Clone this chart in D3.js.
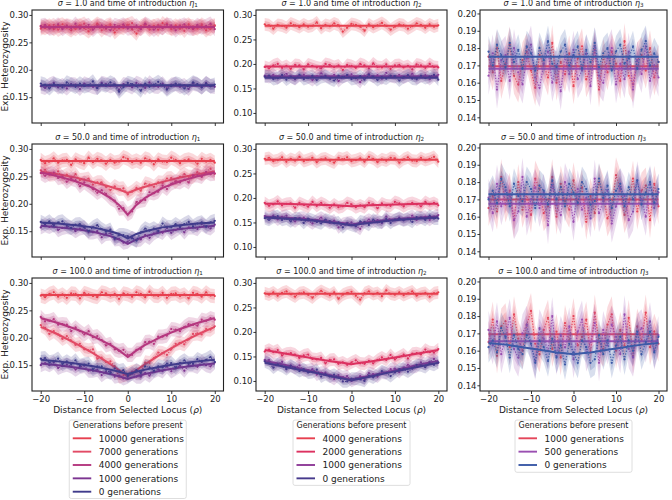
<!DOCTYPE html>
<html><head><meta charset="utf-8">
<script src="https://cdn.jsdelivr.net/npm/d3@7"></script>
<style>body{margin:0;background:#fff}svg{display:block}text{font-family:"DejaVu Sans",sans-serif;fill:#222}</style>
</head><body><svg id="chart" width="672" height="500"></svg>
<script>
// ---------------- data ----------------
const distance = [-20,-19,-18,-17,-16,-15,-14,-13,-12,-11,-10,-9,-8,-7,-6,-5,-4,-3,-2,-1,0,1,2,3,4,5,6,7,8,9,10,11,12,13,14,15,16,17,18,19,20];
const fitDistance = [-20,-16,-12,-8,-4,-2,0,2,4,8,12,16,20];
const sigmaLabels = ["1.0","50.0","100.0"];
const etaLabels = ["1","2","3"];
const xTicks = [-20,-10,0,10,20];
const yTicksCol1 = [0.15,0.20,0.25,0.30];
const yTicksCol2 = [0.10,0.15,0.20,0.25,0.30];
const yTicksCol3 = [0.14,0.15,0.16,0.17,0.18,0.19,0.20];
const gensCol1 = ["10000 generations","7000 generations","4000 generations","1000 generations","0 generations"];
const gensCol2 = ["4000 generations","2000 generations","1000 generations","0 generations"];
const gensCol3 = ["1000 generations","500 generations","0 generations"];
const sdCol1 = [0.0065,0.0065,0.0065,0.0065,0.0065];
const sdCol2 = [0.0065,0.0065,0.0065,0.0065];
const sdCol3 = [0.0052,0.0055,0.0045];

// sigma = 1, eta1
const obs_s1_e1_g10000 = [0.279,0.276,0.281,0.274,0.280,0.283,0.277,0.272,0.279,0.281,0.276,0.270,0.278,0.284,0.279,0.275,0.281,0.268,0.276,0.280,0.282,0.274,0.266,0.279,0.283,0.277,0.280,0.273,0.285,0.278,0.276,0.281,0.275,0.279,0.283,0.274,0.278,0.280,0.272,0.279,0.281];
const obs_s1_e1_g7000 = [0.275,0.280,0.277,0.282,0.273,0.278,0.281,0.279,0.274,0.280,0.284,0.276,0.277,0.281,0.272,0.280,0.283,0.275,0.279,0.276,0.282,0.285,0.277,0.275,0.280,0.273,0.279,0.282,0.276,0.284,0.274,0.277,0.281,0.271,0.280,0.279,0.275,0.283,0.277,0.274,0.280];
const obs_s1_e1_g4000 = [0.280,0.282,0.275,0.277,0.283,0.274,0.280,0.276,0.284,0.275,0.278,0.282,0.273,0.279,0.281,0.276,0.272,0.282,0.279,0.283,0.275,0.277,0.281,0.274,0.284,0.280,0.273,0.279,0.276,0.282,0.281,0.272,0.279,0.283,0.276,0.275,0.282,0.277,0.280,0.284,0.274];
const obs_s1_e1_g1000 = [0.170,0.167,0.173,0.176,0.168,0.172,0.166,0.174,0.173,0.165,0.175,0.172,0.169,0.167,0.176,0.174,0.170,0.173,0.164,0.174,0.172,0.168,0.176,0.173,0.167,0.177,0.170,0.169,0.175,0.166,0.173,0.174,0.169,0.172,0.165,0.175,0.173,0.168,0.176,0.170,0.169];
const obs_s1_e1_g0 = [0.175,0.173,0.166,0.174,0.172,0.168,0.177,0.173,0.169,0.175,0.170,0.172,0.179,0.167,0.174,0.171,0.177,0.173,0.160,0.168,0.176,0.174,0.170,0.162,0.175,0.169,0.173,0.178,0.172,0.164,0.170,0.175,0.173,0.166,0.171,0.177,0.174,0.168,0.175,0.170,0.173];
const fit_s1_e1_g10000 = [0.278,0.278,0.278,0.278,0.278,0.278,0.278,0.278,0.278,0.278,0.278,0.278,0.278];
const fit_s1_e1_g7000 = [0.278,0.278,0.278,0.278,0.278,0.278,0.278,0.278,0.278,0.278,0.278,0.278,0.278];
const fit_s1_e1_g4000 = [0.278,0.278,0.278,0.278,0.278,0.278,0.278,0.278,0.278,0.278,0.278,0.278,0.278];
const fit_s1_e1_g1000 = [0.171,0.171,0.171,0.171,0.171,0.171,0.171,0.171,0.171,0.171,0.171,0.171,0.171];
const fit_s1_e1_g0 = [0.172,0.172,0.172,0.172,0.172,0.172,0.172,0.172,0.172,0.172,0.172,0.172,0.172];

// sigma = 50, eta1
const obs_s50_e1_g10000 = [0.280,0.274,0.277,0.283,0.275,0.279,0.280,0.271,0.281,0.277,0.274,0.284,0.276,0.282,0.279,0.273,0.280,0.275,0.277,0.285,0.282,0.276,0.279,0.275,0.283,0.280,0.272,0.281,0.277,0.276,0.284,0.280,0.274,0.279,0.281,0.278,0.273,0.282,0.277,0.280,0.275];
const obs_s50_e1_g7000 = [0.261,0.262,0.253,0.254,0.259,0.248,0.253,0.247,0.254,0.243,0.244,0.246,0.235,0.239,0.239,0.231,0.225,0.232,0.227,0.228,0.217,0.222,0.229,0.224,0.237,0.235,0.231,0.239,0.238,0.246,0.247,0.240,0.249,0.254,0.249,0.249,0.258,0.254,0.258,0.264,0.255];
const obs_s50_e1_g4000 = [0.256,0.251,0.255,0.257,0.247,0.249,0.240,0.246,0.243,0.232,0.239,0.233,0.227,0.220,0.225,0.218,0.210,0.206,0.191,0.192,0.181,0.186,0.203,0.206,0.207,0.221,0.219,0.222,0.233,0.227,0.237,0.241,0.239,0.244,0.239,0.252,0.252,0.249,0.258,0.254,0.255];
const obs_s50_e1_g1000 = [0.157,0.161,0.158,0.162,0.152,0.156,0.158,0.156,0.150,0.155,0.157,0.148,0.148,0.150,0.139,0.145,0.146,0.135,0.136,0.129,0.131,0.138,0.134,0.135,0.143,0.138,0.146,0.151,0.147,0.156,0.147,0.152,0.157,0.148,0.157,0.157,0.154,0.163,0.158,0.155,0.162];
const obs_s50_e1_g0 = [0.167,0.163,0.168,0.160,0.166,0.168,0.161,0.156,0.162,0.163,0.157,0.150,0.157,0.161,0.154,0.149,0.153,0.137,0.143,0.143,0.141,0.137,0.133,0.148,0.155,0.151,0.155,0.150,0.164,0.158,0.157,0.163,0.158,0.163,0.167,0.159,0.164,0.166,0.159,0.166,0.169];
const fit_s50_e1_g10000 = [0.278,0.278,0.278,0.278,0.278,0.278,0.278,0.278,0.278,0.278,0.278,0.278,0.278];
const fit_s50_e1_g7000 = [0.259,0.254,0.248,0.240,0.231,0.226,0.220,0.226,0.231,0.240,0.248,0.254,0.259];
const fit_s50_e1_g4000 = [0.257,0.250,0.241,0.229,0.211,0.198,0.180,0.198,0.211,0.229,0.241,0.250,0.257];
const fit_s50_e1_g1000 = [0.160,0.157,0.154,0.149,0.141,0.135,0.127,0.135,0.141,0.149,0.154,0.157,0.160];
const fit_s50_e1_g0 = [0.166,0.164,0.161,0.157,0.150,0.145,0.137,0.145,0.150,0.157,0.161,0.164,0.166];

// sigma = 100, eta1
const obs_s100_e1_g10000 = [0.277,0.274,0.280,0.283,0.275,0.279,0.273,0.281,0.280,0.272,0.282,0.279,0.276,0.274,0.283,0.281,0.277,0.280,0.271,0.281,0.279,0.275,0.283,0.280,0.274,0.284,0.277,0.276,0.282,0.273,0.280,0.281,0.276,0.279,0.272,0.282,0.280,0.275,0.283,0.277,0.276];
const obs_s100_e1_g7000 = [0.223,0.218,0.207,0.212,0.206,0.198,0.203,0.195,0.187,0.189,0.179,0.177,0.179,0.162,0.164,0.156,0.157,0.148,0.129,0.132,0.134,0.138,0.139,0.137,0.155,0.154,0.163,0.173,0.172,0.169,0.179,0.189,0.191,0.188,0.197,0.207,0.208,0.206,0.216,0.215,0.221];
const obs_s100_e1_g4000 = [0.238,0.230,0.231,0.234,0.224,0.225,0.224,0.212,0.219,0.212,0.206,0.212,0.201,0.203,0.196,0.186,0.189,0.179,0.176,0.178,0.169,0.169,0.178,0.179,0.192,0.193,0.189,0.202,0.202,0.204,0.216,0.215,0.212,0.220,0.225,0.224,0.222,0.233,0.231,0.236,0.233];
const obs_s100_e1_g1000 = [0.150,0.154,0.150,0.155,0.145,0.149,0.151,0.148,0.142,0.147,0.149,0.140,0.140,0.142,0.132,0.138,0.139,0.129,0.131,0.126,0.129,0.135,0.129,0.129,0.136,0.131,0.139,0.143,0.139,0.148,0.139,0.144,0.149,0.140,0.150,0.150,0.147,0.156,0.150,0.148,0.155];
const obs_s100_e1_g0 = [0.162,0.163,0.155,0.157,0.162,0.152,0.157,0.152,0.159,0.149,0.151,0.153,0.143,0.148,0.148,0.142,0.136,0.144,0.139,0.141,0.131,0.135,0.141,0.136,0.148,0.146,0.140,0.148,0.146,0.153,0.154,0.146,0.154,0.159,0.153,0.153,0.161,0.157,0.160,0.165,0.156];
const fit_s100_e1_g10000 = [0.278,0.278,0.278,0.278,0.278,0.278,0.278,0.278,0.278,0.278,0.278,0.278,0.278];
const fit_s100_e1_g7000 = [0.220,0.206,0.190,0.172,0.152,0.141,0.130,0.141,0.152,0.172,0.190,0.206,0.220];
const fit_s100_e1_g4000 = [0.236,0.227,0.216,0.203,0.187,0.177,0.165,0.177,0.187,0.203,0.216,0.227,0.236];
const fit_s100_e1_g1000 = [0.153,0.150,0.146,0.141,0.134,0.130,0.125,0.130,0.134,0.141,0.146,0.150,0.153];
const fit_s100_e1_g0 = [0.160,0.157,0.153,0.148,0.142,0.138,0.134,0.138,0.142,0.148,0.153,0.157,0.160];

// sigma = 1, eta2
const obs_s1_e2_g4000 = [0.281,0.279,0.272,0.280,0.278,0.274,0.283,0.279,0.275,0.281,0.276,0.278,0.285,0.273,0.280,0.277,0.283,0.279,0.266,0.274,0.282,0.280,0.276,0.268,0.281,0.275,0.279,0.284,0.278,0.270,0.276,0.281,0.279,0.272,0.277,0.283,0.280,0.274,0.281,0.276,0.279];
const obs_s1_e2_g2000 = [0.194,0.191,0.197,0.200,0.192,0.196,0.190,0.198,0.197,0.189,0.199,0.196,0.193,0.191,0.200,0.198,0.194,0.197,0.188,0.198,0.196,0.192,0.200,0.197,0.191,0.201,0.194,0.193,0.199,0.190,0.197,0.198,0.193,0.196,0.189,0.199,0.197,0.192,0.200,0.194,0.193];
const obs_s1_e2_g1000 = [0.176,0.173,0.178,0.171,0.177,0.180,0.174,0.169,0.176,0.178,0.173,0.167,0.175,0.181,0.176,0.172,0.178,0.165,0.173,0.177,0.179,0.171,0.163,0.176,0.180,0.174,0.177,0.170,0.182,0.175,0.173,0.178,0.172,0.176,0.180,0.171,0.175,0.177,0.169,0.176,0.178];
const obs_s1_e2_g0 = [0.174,0.176,0.169,0.171,0.177,0.168,0.174,0.170,0.178,0.169,0.172,0.176,0.167,0.173,0.175,0.170,0.166,0.176,0.173,0.177,0.169,0.171,0.175,0.168,0.178,0.174,0.167,0.173,0.170,0.176,0.175,0.166,0.173,0.177,0.170,0.169,0.176,0.171,0.174,0.178,0.168];
const fit_s1_e2_g4000 = [0.278,0.278,0.278,0.278,0.278,0.278,0.278,0.278,0.278,0.278,0.278,0.278,0.278];
const fit_s1_e2_g2000 = [0.195,0.195,0.195,0.195,0.195,0.195,0.195,0.195,0.195,0.195,0.195,0.195,0.195];
const fit_s1_e2_g1000 = [0.175,0.175,0.175,0.175,0.175,0.175,0.175,0.175,0.175,0.175,0.175,0.175,0.175];
const fit_s1_e2_g0 = [0.172,0.172,0.172,0.172,0.172,0.172,0.172,0.172,0.172,0.172,0.172,0.172,0.172];

// sigma = 50, eta2
const obs_s50_e2_g4000 = [0.280,0.282,0.275,0.277,0.283,0.274,0.280,0.276,0.284,0.275,0.278,0.282,0.273,0.279,0.281,0.276,0.272,0.282,0.279,0.283,0.275,0.277,0.281,0.274,0.284,0.280,0.273,0.279,0.276,0.282,0.281,0.272,0.279,0.283,0.276,0.275,0.282,0.277,0.280,0.284,0.274];
const obs_s50_e2_g2000 = [0.190,0.184,0.187,0.193,0.185,0.188,0.189,0.180,0.190,0.186,0.182,0.192,0.184,0.190,0.186,0.180,0.187,0.181,0.183,0.190,0.187,0.181,0.185,0.181,0.190,0.187,0.179,0.189,0.185,0.184,0.192,0.189,0.183,0.188,0.190,0.187,0.183,0.192,0.187,0.190,0.185];
const obs_s50_e2_g1000 = [0.163,0.159,0.164,0.156,0.162,0.164,0.158,0.152,0.159,0.160,0.154,0.148,0.155,0.160,0.154,0.149,0.154,0.140,0.147,0.149,0.150,0.143,0.137,0.151,0.156,0.151,0.155,0.149,0.162,0.156,0.154,0.160,0.155,0.159,0.164,0.155,0.160,0.162,0.155,0.162,0.165];
const obs_s50_e2_g0 = [0.159,0.155,0.161,0.163,0.155,0.158,0.152,0.159,0.158,0.149,0.158,0.155,0.151,0.148,0.156,0.153,0.148,0.150,0.140,0.148,0.145,0.142,0.152,0.150,0.145,0.156,0.150,0.150,0.157,0.149,0.156,0.158,0.154,0.157,0.151,0.161,0.160,0.155,0.164,0.158,0.158];
const fit_s50_e2_g4000 = [0.278,0.278,0.278,0.278,0.278,0.278,0.278,0.278,0.278,0.278,0.278,0.278,0.278];
const fit_s50_e2_g2000 = [0.188,0.188,0.187,0.186,0.185,0.184,0.183,0.184,0.185,0.186,0.187,0.188,0.188];
const fit_s50_e2_g1000 = [0.162,0.160,0.158,0.155,0.151,0.149,0.146,0.149,0.151,0.155,0.158,0.160,0.162];
const fit_s50_e2_g0 = [0.160,0.158,0.156,0.153,0.149,0.147,0.144,0.147,0.149,0.153,0.156,0.158,0.160];

// sigma = 100, eta2
const obs_s100_e2_g4000 = [0.279,0.276,0.281,0.274,0.280,0.283,0.277,0.272,0.279,0.281,0.276,0.270,0.278,0.284,0.279,0.275,0.281,0.268,0.276,0.280,0.282,0.274,0.266,0.279,0.283,0.277,0.280,0.273,0.285,0.278,0.276,0.281,0.275,0.279,0.283,0.274,0.278,0.280,0.272,0.279,0.281];
const obs_s100_e2_g2000 = [0.160,0.164,0.159,0.163,0.152,0.156,0.157,0.154,0.147,0.152,0.154,0.145,0.144,0.147,0.136,0.143,0.144,0.135,0.138,0.133,0.138,0.142,0.136,0.135,0.141,0.136,0.143,0.148,0.143,0.153,0.144,0.149,0.154,0.146,0.156,0.157,0.154,0.164,0.159,0.158,0.165];
const obs_s100_e2_g1000 = [0.143,0.143,0.134,0.135,0.139,0.128,0.132,0.126,0.132,0.121,0.122,0.124,0.113,0.117,0.117,0.110,0.104,0.112,0.108,0.110,0.100,0.104,0.110,0.104,0.116,0.114,0.109,0.117,0.116,0.124,0.125,0.118,0.127,0.133,0.128,0.129,0.138,0.135,0.139,0.145,0.137];
const obs_s100_e2_g0 = [0.140,0.136,0.127,0.134,0.130,0.124,0.131,0.126,0.120,0.124,0.117,0.118,0.123,0.109,0.114,0.109,0.113,0.107,0.099,0.099,0.105,0.105,0.103,0.100,0.111,0.107,0.113,0.120,0.116,0.110,0.117,0.124,0.124,0.119,0.125,0.133,0.132,0.128,0.136,0.133,0.138];
const fit_s100_e2_g4000 = [0.278,0.278,0.278,0.278,0.278,0.278,0.278,0.278,0.278,0.278,0.278,0.278,0.278];
const fit_s100_e2_g2000 = [0.163,0.157,0.151,0.145,0.139,0.137,0.134,0.137,0.139,0.145,0.151,0.157,0.163];
const fit_s100_e2_g1000 = [0.141,0.134,0.126,0.118,0.110,0.107,0.103,0.107,0.110,0.118,0.126,0.134,0.141];
const fit_s100_e2_g0 = [0.137,0.130,0.123,0.116,0.108,0.105,0.101,0.105,0.108,0.116,0.123,0.130,0.137];

// sigma = 1, eta3
const obs_s1_e3_g1000 = [0.175,0.166,0.180,0.161,0.171,0.182,0.164,0.159,0.173,0.178,0.167,0.157,0.176,0.170,0.163,0.183,0.160,0.172,0.165,0.177,0.158,0.174,0.181,0.162,0.168,0.179,0.156,0.175,0.166,0.178,0.171,0.161,0.184,0.164,0.159,0.173,0.176,0.167,0.180,0.163,0.172];
const obs_s1_e3_g500 = [0.164,0.177,0.156,0.173,0.176,0.161,0.180,0.166,0.159,0.174,0.182,0.163,0.157,0.171,0.178,0.160,0.170,0.155,0.175,0.165,0.179,0.162,0.167,0.177,0.158,0.181,0.164,0.160,0.174,0.180,0.159,0.171,0.162,0.178,0.156,0.173,0.165,0.181,0.161,0.170,0.163];
const obs_s1_e3_g0 = [0.178,0.170,0.182,0.176,0.169,0.183,0.172,0.179,0.168,0.181,0.177,0.167,0.180,0.173,0.184,0.171,0.169,0.178,0.182,0.170,0.176,0.181,0.168,0.179,0.172,0.183,0.169,0.177,0.180,0.167,0.178,0.182,0.171,0.174,0.181,0.168,0.179,0.184,0.170,0.177,0.172];
const fit_s1_e3_g1000 = [0.1695,0.1695,0.1695,0.1695,0.1695,0.1695,0.1695,0.1695,0.1695,0.1695,0.1695,0.1695,0.1695];
const fit_s1_e3_g500 = [0.168,0.168,0.168,0.168,0.168,0.168,0.168,0.168,0.168,0.168,0.168,0.168,0.168];
const fit_s1_e3_g0 = [0.175,0.175,0.175,0.175,0.175,0.175,0.175,0.175,0.175,0.175,0.175,0.175,0.175];

// sigma = 50, eta3
const obs_s50_e3_g1000 = [0.165,0.172,0.163,0.183,0.167,0.175,0.158,0.180,0.164,0.173,0.161,0.182,0.176,0.162,0.166,0.183,0.160,0.179,0.169,0.164,0.181,0.167,0.177,0.157,0.172,0.162,0.180,0.173,0.159,0.165,0.184,0.176,0.161,0.168,0.182,0.163,0.175,0.178,0.158,0.179,0.166];
const obs_s50_e3_g500 = [0.171,0.162,0.179,0.166,0.175,0.172,0.158,0.163,0.183,0.160,0.170,0.177,0.165,0.174,0.155,0.178,0.167,0.161,0.180,0.173,0.157,0.176,0.164,0.171,0.159,0.182,0.162,0.169,0.175,0.156,0.166,0.177,0.172,0.158,0.163,0.181,0.170,0.160,0.179,0.165,0.174];
const obs_s50_e3_g0 = [0.170,0.175,0.168,0.182,0.177,0.166,0.179,0.172,0.169,0.180,0.176,0.165,0.178,0.175,0.167,0.181,0.170,0.177,0.166,0.179,0.174,0.168,0.180,0.176,0.167,0.169,0.182,0.171,0.178,0.165,0.175,0.179,0.166,0.177,0.170,0.181,0.167,0.174,0.180,0.168,0.176];
const fit_s50_e3_g1000 = [0.170,0.170,0.170,0.170,0.170,0.170,0.170,0.170,0.170,0.170,0.170,0.170,0.170];
const fit_s50_e3_g500 = [0.1675,0.1675,0.1675,0.1675,0.1675,0.1675,0.1675,0.1675,0.1675,0.1675,0.1675,0.1675,0.1675];
const fit_s50_e3_g0 = [0.173,0.173,0.173,0.173,0.173,0.173,0.173,0.173,0.173,0.173,0.173,0.173,0.173];

// sigma = 100, eta3
const obs_s100_e3_g1000 = [0.165,0.178,0.157,0.174,0.177,0.162,0.181,0.167,0.160,0.175,0.183,0.164,0.158,0.172,0.179,0.161,0.171,0.156,0.176,0.166,0.180,0.163,0.168,0.178,0.159,0.182,0.165,0.161,0.175,0.181,0.160,0.172,0.163,0.179,0.157,0.174,0.166,0.182,0.162,0.171,0.164];
const obs_s100_e3_g500 = [0.172,0.163,0.177,0.158,0.168,0.179,0.161,0.156,0.170,0.175,0.164,0.154,0.173,0.167,0.160,0.180,0.157,0.169,0.162,0.174,0.155,0.171,0.178,0.159,0.165,0.176,0.153,0.172,0.163,0.175,0.168,0.158,0.181,0.161,0.156,0.170,0.173,0.164,0.177,0.160,0.169];
const obs_s100_e3_g0 = [0.162,0.166,0.159,0.173,0.168,0.156,0.169,0.161,0.158,0.169,0.164,0.153,0.166,0.162,0.154,0.167,0.156,0.163,0.152,0.164,0.159,0.153,0.166,0.162,0.153,0.155,0.169,0.158,0.166,0.153,0.163,0.168,0.155,0.166,0.160,0.171,0.158,0.165,0.171,0.159,0.168];
const fit_s100_e3_g1000 = [0.1695,0.1695,0.1695,0.1695,0.1695,0.1695,0.1695,0.1695,0.1695,0.1695,0.1695,0.1695,0.1695];
const fit_s100_e3_g500 = [0.1655,0.1655,0.1655,0.1655,0.1655,0.1655,0.1655,0.1655,0.1655,0.1655,0.1655,0.1655,0.1655];
const fit_s100_e3_g0 = [0.1645,0.1635,0.162,0.1605,0.159,0.1585,0.158,0.1585,0.159,0.1605,0.162,0.1635,0.1645];

// ---------------- assembly ----------------
const gens = [gensCol1, gensCol2, gensCol3];
const sds = [sdCol1, sdCol2, sdCol3];
const yTicks = [yTicksCol1, yTicksCol2, yTicksCol3];
const colors = [
  ["#e7404f","#e24a65","#b5377f","#7c3591","#403b8b"],
  ["#e7404f","#dc3160","#8e3a97","#463a8c"],
  ["#e4465a","#9a4fb1","#3c5aa7"]
];
const bandOpacity = [[0.2,0.25],[0.2,0.25],[0.2,0.22]];
const panelData = [
  [ // column eta1
    [[obs_s1_e1_g10000,fit_s1_e1_g10000],[obs_s1_e1_g7000,fit_s1_e1_g7000],[obs_s1_e1_g4000,fit_s1_e1_g4000],[obs_s1_e1_g1000,fit_s1_e1_g1000],[obs_s1_e1_g0,fit_s1_e1_g0]],
    [[obs_s50_e1_g10000,fit_s50_e1_g10000],[obs_s50_e1_g7000,fit_s50_e1_g7000],[obs_s50_e1_g4000,fit_s50_e1_g4000],[obs_s50_e1_g1000,fit_s50_e1_g1000],[obs_s50_e1_g0,fit_s50_e1_g0]],
    [[obs_s100_e1_g10000,fit_s100_e1_g10000],[obs_s100_e1_g7000,fit_s100_e1_g7000],[obs_s100_e1_g4000,fit_s100_e1_g4000],[obs_s100_e1_g1000,fit_s100_e1_g1000],[obs_s100_e1_g0,fit_s100_e1_g0]]
  ],
  [ // column eta2
    [[obs_s1_e2_g4000,fit_s1_e2_g4000],[obs_s1_e2_g2000,fit_s1_e2_g2000],[obs_s1_e2_g1000,fit_s1_e2_g1000],[obs_s1_e2_g0,fit_s1_e2_g0]],
    [[obs_s50_e2_g4000,fit_s50_e2_g4000],[obs_s50_e2_g2000,fit_s50_e2_g2000],[obs_s50_e2_g1000,fit_s50_e2_g1000],[obs_s50_e2_g0,fit_s50_e2_g0]],
    [[obs_s100_e2_g4000,fit_s100_e2_g4000],[obs_s100_e2_g2000,fit_s100_e2_g2000],[obs_s100_e2_g1000,fit_s100_e2_g1000],[obs_s100_e2_g0,fit_s100_e2_g0]]
  ],
  [ // column eta3
    [[obs_s1_e3_g1000,fit_s1_e3_g1000],[obs_s1_e3_g500,fit_s1_e3_g500],[obs_s1_e3_g0,fit_s1_e3_g0]],
    [[obs_s50_e3_g1000,fit_s50_e3_g1000],[obs_s50_e3_g500,fit_s50_e3_g500],[obs_s50_e3_g0,fit_s50_e3_g0]],
    [[obs_s100_e3_g1000,fit_s100_e3_g1000],[obs_s100_e3_g500,fit_s100_e3_g500],[obs_s100_e3_g0,fit_s100_e3_g0]]
  ]
];

// ---------------- layout ----------------
const colX = [[32,223.5],[256,447],[480,667]];
const rowY = [[10,123],[144,257],[278,391]];
const yDomains = [[0.103,0.309],[0.0795,0.3101],[0.1367,0.2020]];
const svg = d3.select("#chart");

for (let c = 0; c < 3; c++) {
  for (let r = 0; r < 3; r++) {
    const [x0,x1] = colX[c], [y0,y1] = rowY[r];
    const x = d3.scaleLinear().domain([-22,22]).range([x0,x1]);
    const y = d3.scaleLinear().domain(yDomains[c]).range([y1,y0]);
    const g = svg.append("g");
    panelData[c][r].forEach(([obs, fit], k) => {
      const col = colors[c][k], sd = sds[c][k];
      const band = m => d3.area().x((d,i)=>x(distance[i])).y0(d=>y(d - m*sd)).y1(d=>y(d + m*sd));
      g.append("path").attr("d", band(2)(obs)).attr("fill", col).attr("fill-opacity", bandOpacity[c][0]);
      g.append("path").attr("d", band(1)(obs)).attr("fill", col).attr("fill-opacity", bandOpacity[c][1]);
      g.append("path").attr("d", d3.line().x((d,i)=>x(distance[i])).y(d=>y(d))(obs))
        .attr("fill","none").attr("stroke", col).attr("stroke-width", 1.1).attr("stroke-dasharray","1.2,1.6");
      g.append("g").selectAll("circle").data(obs).join("circle")
        .attr("cx",(d,i)=>x(distance[i])).attr("cy",d=>y(d)).attr("r",1.1).attr("fill",col);
      g.append("path").attr("d", d3.line().x((d,i)=>x(fitDistance[i])).y(d=>y(d))(fit))
        .attr("fill","none").attr("stroke", col).attr("stroke-width", 2);
    });
    // frame
    svg.append("rect").attr("x",x0).attr("y",y0).attr("width",x1-x0).attr("height",y1-y0)
      .attr("fill","none").attr("stroke","#222").attr("stroke-width",1.1);
    // axes
    const xa = svg.append("g").attr("transform",`translate(0,${y1})`)
      .call(d3.axisBottom(x).tickValues(xTicks).tickSize(3).tickPadding(1.5)
        .tickFormat(r === 2 ? d3.format("d") : () => ""));
    const ya = svg.append("g").attr("transform",`translate(${x0},0)`)
      .call(d3.axisLeft(y).tickValues(yTicks[c]).tickSize(2.6).tickPadding(0.9).tickFormat(d3.format(".2f")));
    [xa, ya].forEach(a => {
      a.select(".domain").remove();
      a.selectAll("line").attr("stroke","#222").attr("stroke-width",0.9);
      a.selectAll("text").attr("font-size",8.5).attr("font-family","DejaVu Sans").attr("fill","#222");
    });
    // title
    const t = svg.append("text").attr("x",(x0+x1)/2).attr("y",y0-4.5).attr("text-anchor","middle").attr("font-size",8);
    t.append("tspan").attr("font-style","italic").text("σ");
    t.append("tspan").text(` = ${sigmaLabels[r]} and time of introduction `);
    t.append("tspan").attr("font-style","italic").text("η");
    t.append("tspan").attr("font-size",5.6).attr("dy",1.6).text(etaLabels[c]);
    // y label
    if (c === 0) {
      svg.append("text").attr("transform",`translate(8,${(y0+y1)/2}) rotate(-90)`)
        .attr("text-anchor","middle").attr("font-size",9).text("Exp. Heterozygosity");
    }
  }
  // x label
  const [x0,x1] = colX[c];
  const xl = svg.append("text").attr("x",(x0+x1)/2).attr("y",412.5).attr("text-anchor","middle").attr("font-size",9);
  xl.append("tspan").text("Distance from Selected Locus (");
  xl.append("tspan").attr("font-style","italic").text("ρ");
  xl.append("tspan").text(")");
  // legend
  const n = gens[c].length, lw = 117, lx = (x0+x1)/2 - lw/2, ly = 420;
  const lh = 13 + 13.1*n;
  const lg = svg.append("g");
  lg.append("rect").attr("x",lx).attr("y",ly).attr("width",lw).attr("height",lh).attr("rx",2)
    .attr("fill","#fff").attr("fill-opacity",0.8).attr("stroke","#d5d5d5").attr("stroke-width",0.8);
  lg.append("text").attr("x",lx+lw/2).attr("y",ly+8.2).attr("text-anchor","middle").attr("font-size",8).text("Generations before present");
  gens[c].forEach((label,k) => {
    const cy = ly + 18.3 + 13.35*k;
    lg.append("line").attr("x1",lx+3.5).attr("x2",lx+22).attr("y1",cy).attr("y2",cy)
      .attr("stroke",colors[c][k]).attr("stroke-width",1.9);
    lg.append("text").attr("x",lx+29.5).attr("y",cy+3.2).attr("font-size",9).text(label);
  });
}
</script></body></html>
